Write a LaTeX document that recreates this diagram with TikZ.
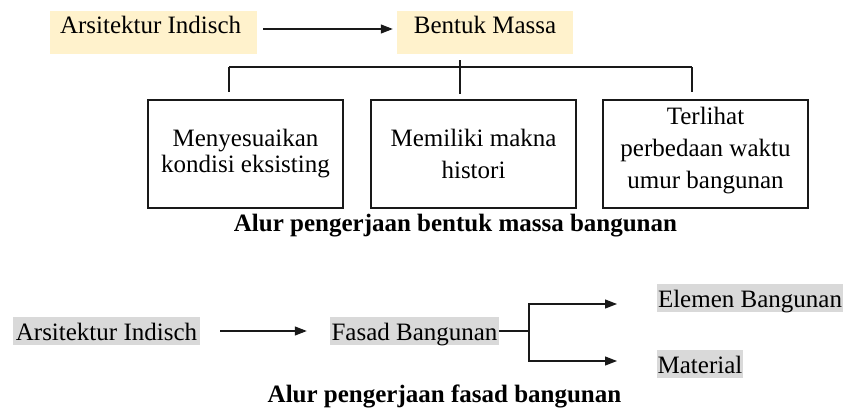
\documentclass[tikz,border=0pt]{standalone}
\usepackage{fontspec}
\setmainfont{Liberation Serif}
\usetikzlibrary{arrows.meta,positioning}
\definecolor{sandfill}{HTML}{FFF2CC}
\definecolor{greyfill}{HTML}{D9D9D9}

\begin{document}
\begin{tikzpicture}[
    x=1pt, y=-1pt,
    font=\fontsize{25}{26}\selectfont,
    sandbox/.style={rectangle, fill=sandfill, inner xsep=0pt, inner ysep=0pt, text height=23pt, text depth=20pt},
    greybox/.style={rectangle, fill=greyfill, inner xsep=1pt, inner ysep=0pt, text height=23pt, text depth=5pt},
    itembox/.style={rectangle, draw=black!90, line width=1.2pt, minimum height=108pt, inner sep=0pt, align=center},
    capt/.style={anchor=base, font=\fontsize{25}{26}\selectfont\bfseries},
    link/.style={line width=1.2pt, draw=black!90},
    arrow/.style={line width=1.2pt, draw=black!90, -{Triangle[length=12pt,width=9pt]}}
]
\useasboundingbox (0,0) rectangle (848,412);

% Bentuk massa
\node[sandbox, inner xsep=10pt, text width=187pt, align=flush left] (arsA) at (153.5,32.5) {Arsitektur Indisch};
\node[sandbox, minimum width=176pt] (massa) at (485,32.5) {Bentuk Massa};

\node[itembox, minimum width=195pt] (kondisi) at (245.5,154) {Menyesuaikan\\kondisi eksisting};
\node[itembox, minimum width=205pt] (histori) at (473.5,154) {Memiliki makna\\[6pt]histori};
\node[itembox, minimum width=205pt, text depth=11.5pt] (umur) at (705.5,154) {Terlihat\\[6pt]perbedaan waktu\\[6pt]umur bangunan};

\node[capt] (judulA) at (455.5,231) {Alur pengerjaan bentuk massa bangunan};

\coordinate (kiri) at (229,67);
\coordinate (tengah) at (460,67);
\coordinate (kanan) at (692,67);

\draw[arrow, shorten <=6pt, shorten >=4pt] ([yshift=3.5pt]arsA.east) -- ([yshift=3.5pt]massa.west);
\draw[link, shorten <=6pt, shorten >=5pt] (tengah |- massa.south) -- (tengah |- histori.north);
\draw[link] (kiri) -- (kanan);
\draw[link, shorten >=7pt] (kiri) -- (kiri |- kondisi.north);
\draw[link, shorten >=7pt] (kanan) -- (kanan |- umur.north);

% Fasad bangunan
\node[greybox, minimum width=187pt] (arsB) at (106.5,331) {Arsitektur Indisch};
\node[greybox, minimum width=169pt] (fasad) at (414.5,331) {Fasad Bangunan};
\node[greybox, minimum width=186pt] (elemen) at (750,298) {Elemen Bangunan};
\node[greybox, minimum width=86pt] (material) at (700,364) {Material};

\node[capt] (judulB) at (444.5,402) {Alur pengerjaan fasad bangunan};

\coordinate (cabang) at (529,331);
\coordinate (ujungA) at (617,304);
\coordinate (ujungB) at (617,361);

\draw[arrow, shorten <=20pt, shorten >=23pt] (arsB) -- (fasad);
\draw[link] (fasad.east) -- (cabang);
\draw[arrow] (cabang) |- (ujungA);
\draw[arrow] (cabang) |- (ujungB);
\end{tikzpicture}
\end{document}
